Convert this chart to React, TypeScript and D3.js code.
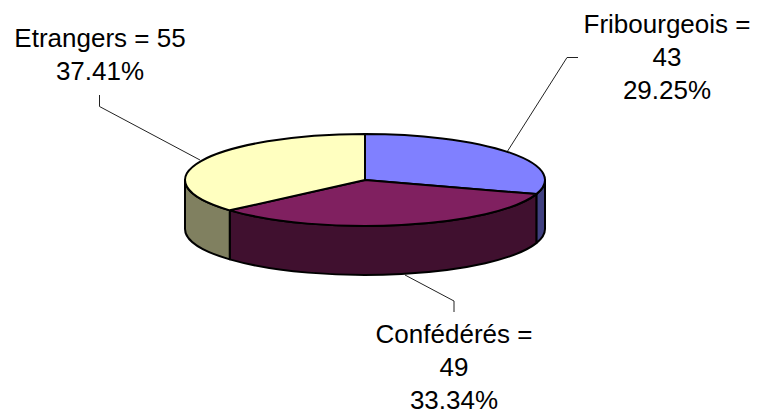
import React, { useEffect } from "react";
import * as d3 from "d3";

const categories = ["Fribourgeois", "Confédérés", "Etrangers"];
const counts = [43, 49, 55];
const percentLabels = ["29.25%", "33.34%", "37.41%"];
const topColors = ["#8080FF", "#802060", "#FFFFC0"];
const sideColors = ["#404080", "#40102F", "#808060"];

const labelLines = [
  ["Fribourgeois =", "43", "29.25%"],
  ["Confédérés =", "49", "33.34%"],
  ["Etrangers = 55", "37.41%"],
];
const labelCentres = [[667, 33], [454, 342.5], [100, 47]];
const leaders = [
  [[578, 57.5], [567, 57.5], [507, 152]],
  [[454, 312], [454, 301], [405, 275]],
  [[99.5, 95], [99.5, 106.5], [200, 160]],
];

const W = 757, H = 412;
const cx = 365, cy = 180, rx = 180, ry = 46, depth = 49;

// the 3D projection pushes the apparent boundaries slightly clockwise
const warp = (a: number) => a + 0.035 * (1 - Math.cos(a));
const px = (a: number) => cx + rx * Math.sin(a);
const py = (a: number) => cy - ry * Math.cos(a);

export default function App() {
  useEffect(() => {
    document.body.style.margin = "0";
  }, []);
  const pie = d3.pie<number>().sort(null)(counts);
  const slices = pie.map((s) => ({ a0: warp(s.startAngle), a1: warp(s.endAngle) }));
  const arc = d3.arc<{ startAngle: number; endAngle: number }>().innerRadius(0).outerRadius(rx);
  const lineGen = d3.line();

  const wall = (a0: number, a1: number) => {
    const lo = Math.max(a0, Math.PI / 2);
    const hi = Math.min(a1, (3 * Math.PI) / 2);
    if (hi <= lo) return null;
    return (
      `M${px(lo)},${py(lo)}` +
      `A${rx},${ry} 0 0 1 ${px(hi)},${py(hi)}` +
      `L${px(hi)},${py(hi) + depth}` +
      `A${rx},${ry} 0 0 0 ${px(lo)},${py(lo) + depth}Z`
    );
  };

  return (
    <svg width={W} height={H} style={{ position: "absolute", left: 0, top: 0 }}
      fontFamily="'Liberation Sans', Arial, sans-serif">
      <rect width={W} height={H} fill="#fff" />
      {leaders.map((pts, i) => (
        <path key={i} d={lineGen(pts as [number, number][]) ?? ""} fill="none" stroke="#222" strokeWidth={1} />
      ))}
      {slices.map((s, i) => {
        const d = wall(s.a0, s.a1);
        return d ? <path key={i} d={d} fill={sideColors[i]} stroke="#000" strokeWidth={2} strokeLinejoin="round" /> : null;
      })}
      <g transform={`translate(${cx},${cy}) scale(1,${ry / rx})`}>
        {slices.map((s, i) => (
          <path key={categories[i]} d={arc({ startAngle: s.a0, endAngle: s.a1 }) ?? ""} fill={topColors[i]}
            stroke="#000" strokeWidth={2} strokeLinejoin="round" style={{ vectorEffect: "non-scaling-stroke" }}>
            <title>{`${categories[i]} = ${counts[i]} ${percentLabels[i]}`}</title>
          </path>
        ))}
      </g>
      {labelLines.map((lines, i) => (
        <text key={i} x={labelCentres[i][0]} y={labelCentres[i][1]} textAnchor="middle" fontSize={26} fill="#000">
          {lines.map((l, j) => (
            <tspan key={j} x={labelCentres[i][0]} dy={j === 0 ? 0 : 33}>{l}</tspan>
          ))}
        </text>
      ))}
    </svg>
  );
}
